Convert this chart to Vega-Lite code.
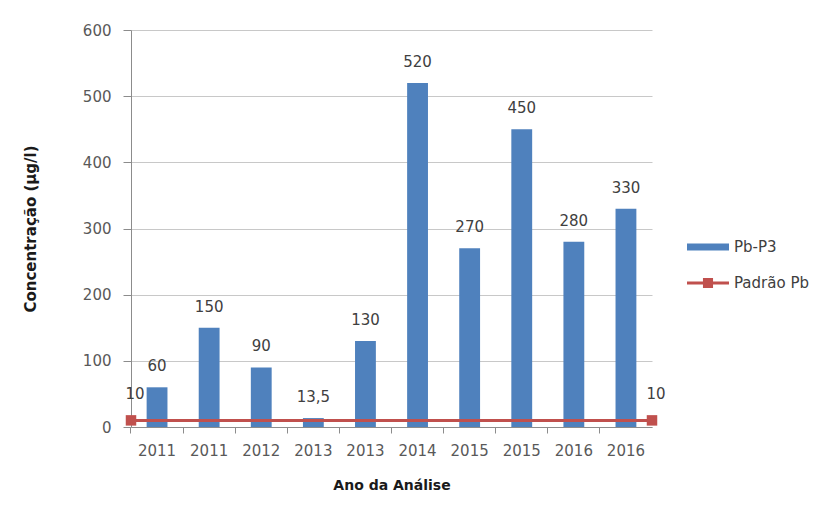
{
  "$schema": "https://vega.github.io/schema/vega-lite/v6.json",
  "autosize": {"type": "none"},
  "padding": {"left": 131, "top": 30, "right": 182, "bottom": 88},
  "width": 521,
  "height": 397,
  "background": "white",
  "config": {
    "font": "DejaVu Sans",
    "view": {"stroke": null},
    "axis": {"labelFont": "DejaVu Sans", "titleFont": "DejaVu Sans"}
  },
  "datasets": {
    "barras": [
      {"amostra": "2011-1", "serie": "Pb-P3", "valor": 60, "rotulo": "60"},
      {"amostra": "2011-2", "serie": "Pb-P3", "valor": 150, "rotulo": "150"},
      {"amostra": "2012", "serie": "Pb-P3", "valor": 90, "rotulo": "90"},
      {"amostra": "2013-1", "serie": "Pb-P3", "valor": 13.5, "rotulo": "13,5"},
      {"amostra": "2013-2", "serie": "Pb-P3", "valor": 130, "rotulo": "130"},
      {"amostra": "2014", "serie": "Pb-P3", "valor": 520, "rotulo": "520"},
      {"amostra": "2015-1", "serie": "Pb-P3", "valor": 270, "rotulo": "270"},
      {"amostra": "2015-2", "serie": "Pb-P3", "valor": 450, "rotulo": "450"},
      {"amostra": "2016-1", "serie": "Pb-P3", "valor": 280, "rotulo": "280"},
      {"amostra": "2016-2", "serie": "Pb-P3", "valor": 330, "rotulo": "330"}
    ],
    "padrao": [
      {"ponto": "início", "serie": "Padrão Pb", "valor": 10, "rotulo": "10"},
      {"ponto": "fim", "serie": "Padrão Pb", "valor": 10, "rotulo": "10"}
    ]
  },
  "encoding": {
    "y": {
      "field": "valor",
      "type": "quantitative",
      "scale": {"domain": [0, 600], "nice": false},
      "axis": {
        "values": [0, 100, 200, 300, 400, 500, 600],
        "title": "Concentração (µg/l)",
        "titleFontSize": 15,
        "titleFontWeight": "bold",
        "titleColor": "#1a1a1a",
        "titleX": -93,
        "labelFontSize": 15,
        "labelColor": "#595959",
        "labelPadding": 12,
        "tickColor": "#8c8c8c",
        "tickSize": 8,
        "domainColor": "#8c8c8c",
        "gridColor": "#c8c8c8",
        "grid": true
      }
    }
  },
  "layer": [
    {
      "data": {"name": "barras"},
      "encoding": {
        "x": {
          "field": "amostra",
          "type": "ordinal",
          "sort": null,
          "scale": {"paddingInner": 0.6, "paddingOuter": 0.3},
          "axis": {
            "title": "Ano da Análise",
            "titleFontSize": 14,
            "titleFontWeight": "bold",
            "titleColor": "#1a1a1a",
            "titlePadding": 20,
            "labelExpr": "substring(datum.label, 0, 4)",
            "labelAngle": 0,
            "labelFontSize": 15,
            "labelColor": "#595959",
            "labelPadding": 10,
            "bandPosition": -0.75,
            "tickColor": "#8c8c8c",
            "tickSize": 6,
            "domainColor": "#8c8c8c",
            "grid": false
          }
        }
      },
      "layer": [
        {
          "mark": {"type": "bar", "color": "#4f81bd"},
          "encoding": {
            "color": {
              "field": "serie",
              "type": "nominal",
              "scale": {"domain": ["Pb-P3", "Padrão Pb"], "range": ["#4f81bd", "#c0504d"]},
              "legend": {
                "title": null,
                "orient": "none",
                "legendX": 556,
                "legendY": 196,
                "labelFontSize": 15,
                "labelColor": "#404040",
                "labelOffset": 5,
                "symbolSize": 1764,
                "rowPadding": 7,
                "encode": {
                  "symbols": {
                    "update": {
                      "shape": {"signal": "datum.value === 'Pb-P3' ? 'M-1,-0.17H1V0.17H-1Z' : 'M-1,-0.07H1V0.07H-1Z M-0.24,-0.24H0.24V0.24H-0.24Z'"},
                      "fill": {"signal": "datum.value === 'Pb-P3' ? '#4f81bd' : '#c0504d'"},
                      "strokeWidth": {"value": 0},
                      "opacity": {"value": 1},
                      "fillOpacity": {"value": 1}
                    }
                  }
                }
              }
            }
          }
        },
        {
          "mark": {"type": "text", "baseline": "bottom", "dy": -13, "fontSize": 15, "color": "#404040"},
          "encoding": {"text": {"field": "rotulo"}}
        }
      ]
    },
    {
      "data": {"name": "padrao"},
      "encoding": {
        "x": {
          "field": "ponto",
          "type": "nominal",
          "sort": null,
          "scale": {"type": "point", "padding": 0},
          "axis": null
        }
      },
      "layer": [
        {
          "mark": {"type": "line", "strokeWidth": 3, "color": "#c0504d", "point": {"shape": "square", "size": 110, "filled": true, "color": "#c0504d"}},
          "encoding": {
            "color": {"field": "serie", "type": "nominal"}
          }
        },
        {
          "mark": {"type": "text", "baseline": "bottom", "dy": -18, "dx": 4, "fontSize": 15, "color": "#404040"},
          "encoding": {"text": {"field": "rotulo"}}
        }
      ]
    }
  ],
  "resolve": {"scale": {"x": "independent"}}
}
